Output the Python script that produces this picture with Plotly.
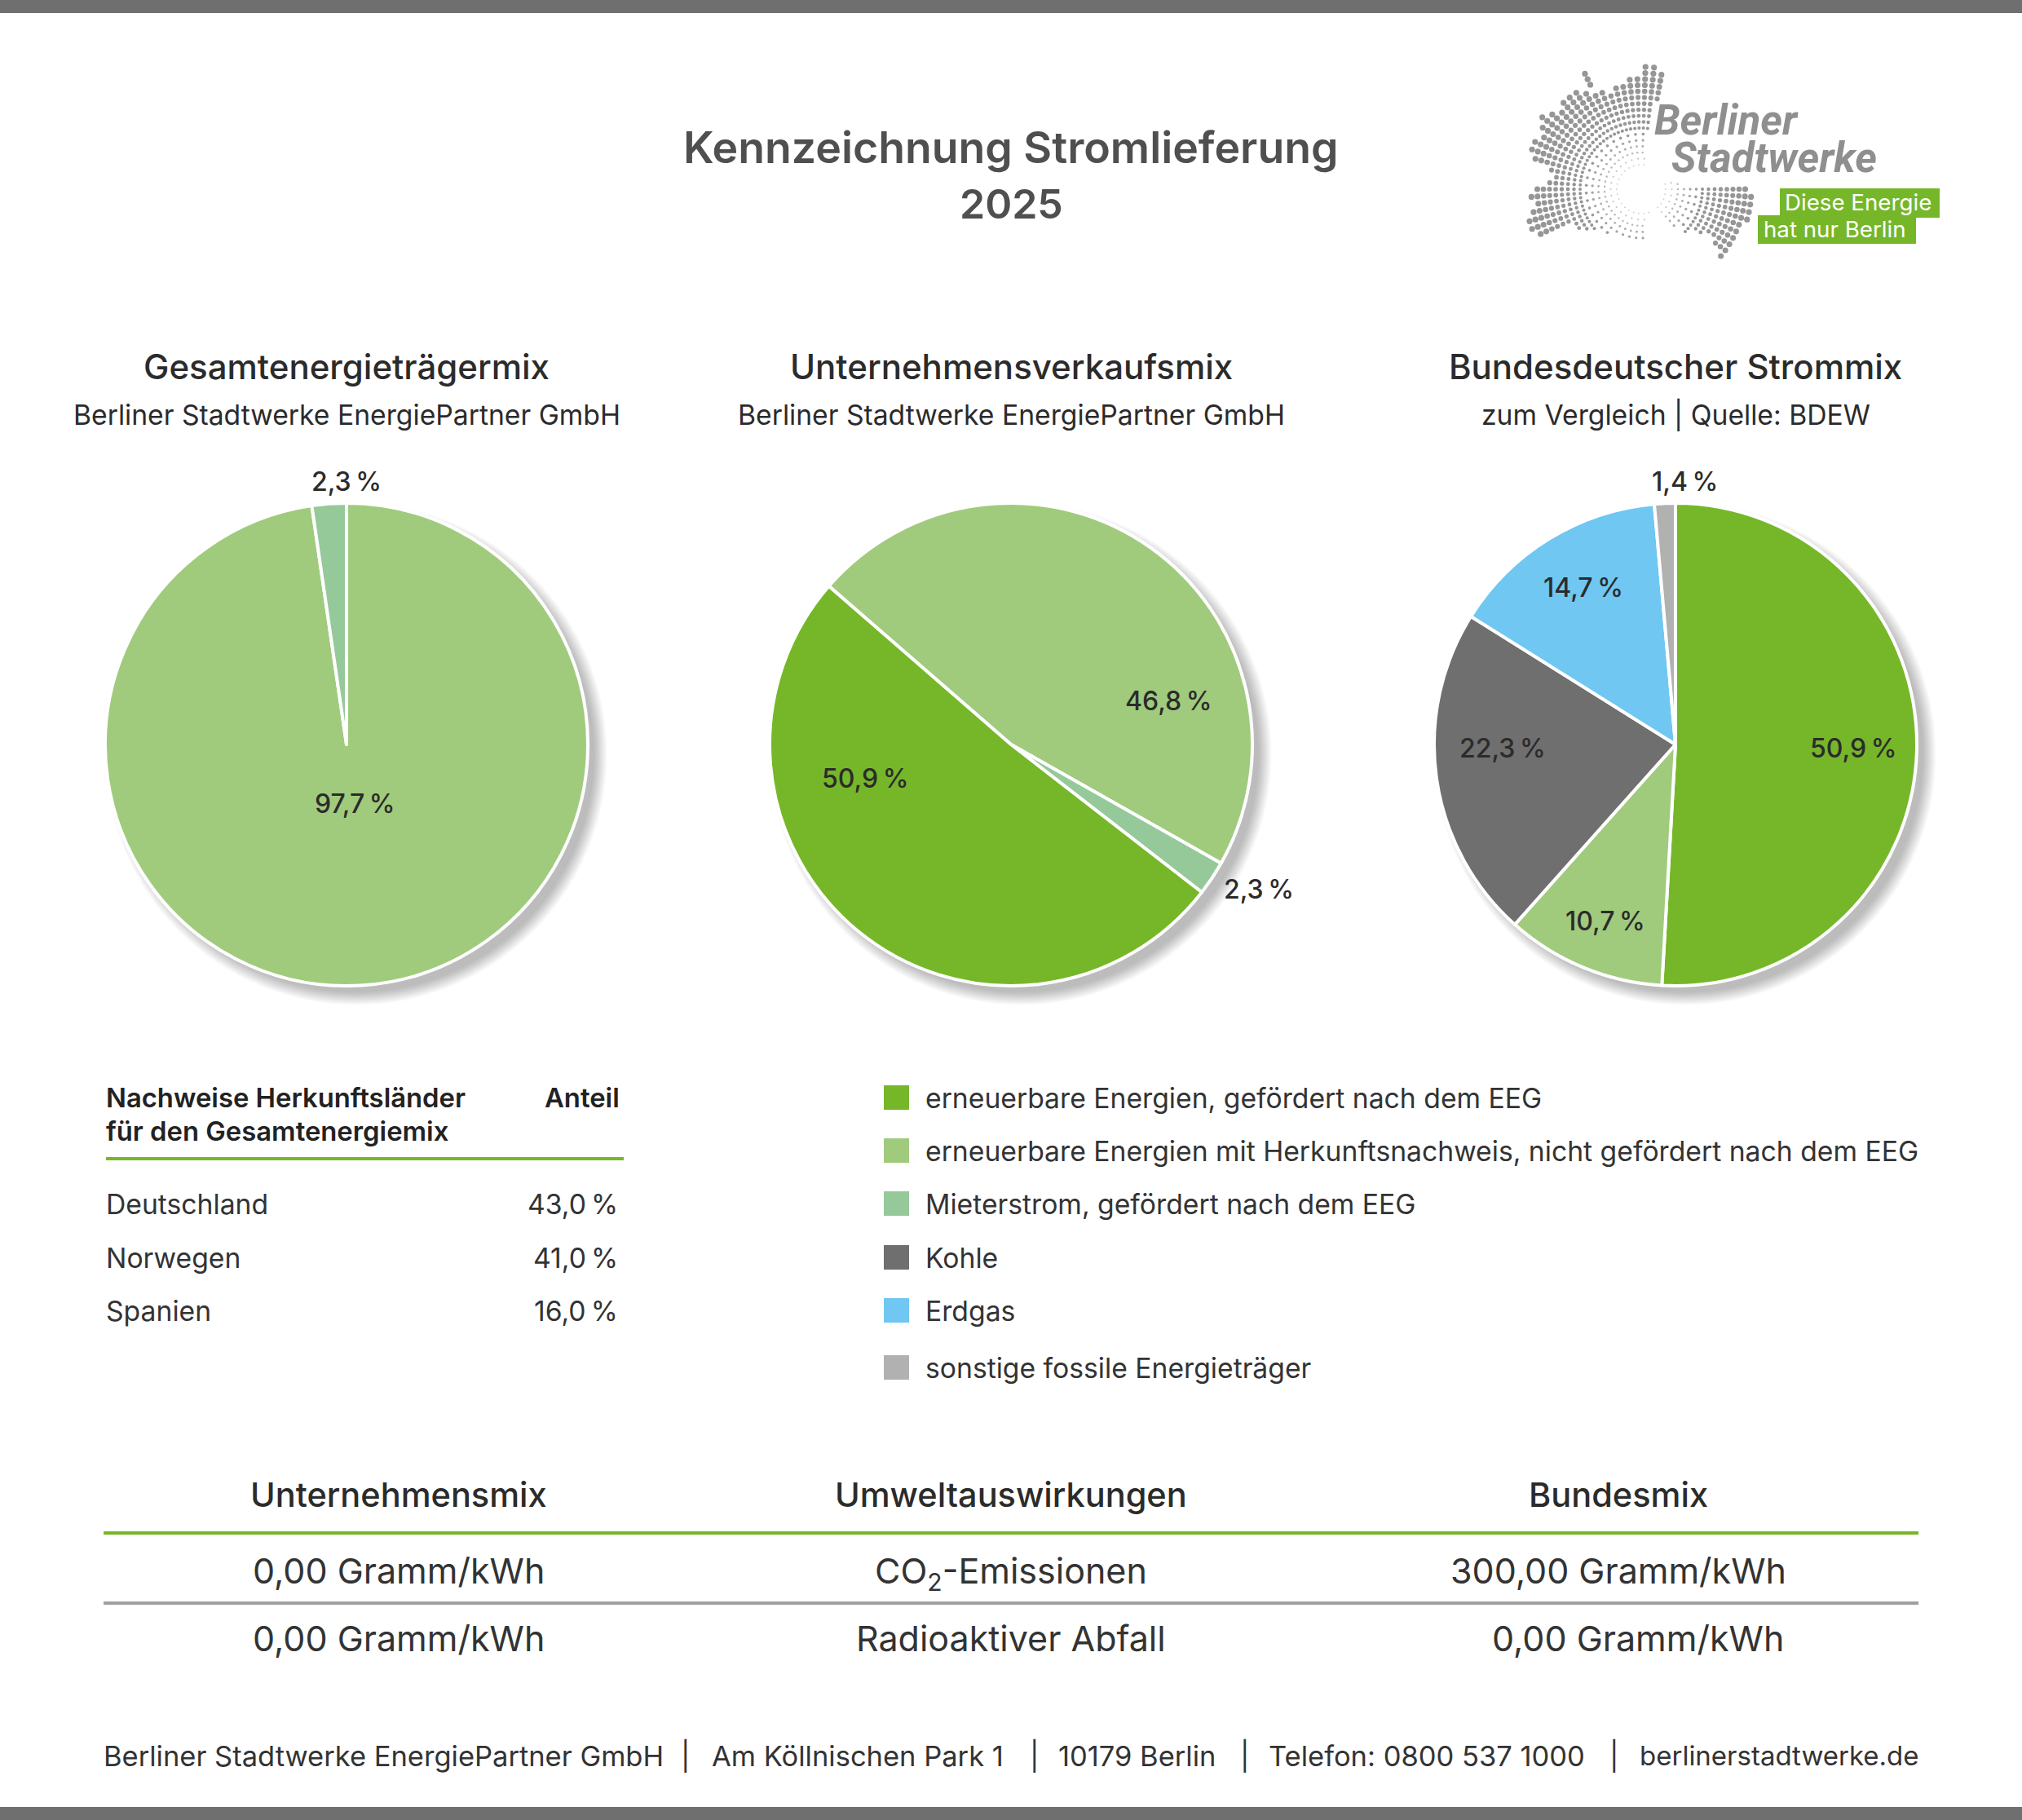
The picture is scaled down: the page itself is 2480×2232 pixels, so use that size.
import math
import plotly.graph_objects as go

W, H = 2480, 2232
FONT = 'Inter'
LOGO_FONT = 'Roboto'

GREEN = '#76b729'
LIGHT_GREEN = '#a0cb7d'
MINT = '#95c99a'
COAL = '#6f6f6f'
GAS = '#6fc7f2'
OTHER = '#b1b1b1'

# pie data
mix_1_values = [97.7, 2.3]
mix_1_colors = [LIGHT_GREEN, MINT]
mix_2_values = [46.8, 2.3, 50.9]
mix_2_colors = [LIGHT_GREEN, MINT, GREEN]
mix_3_values = [50.9, 10.7, 22.3, 14.7, 1.4]
mix_3_colors = [GREEN, LIGHT_GREEN, COAL, GAS, OTHER]

pie_heads = ['Gesamtenergieträgermix', 'Unternehmensverkaufsmix', 'Bundesdeutscher Strommix']
pie_subs = ['Berliner Stadtwerke EnergiePartner GmbH', 'Berliner Stadtwerke EnergiePartner GmbH',
            'zum Vergleich | Quelle: BDEW']

# legend
legend_labels = ['erneuerbare Energien, gefördert nach dem EEG',
                 'erneuerbare Energien mit Herkunftsnachweis, nicht gefördert nach dem EEG',
                 'Mieterstrom, gefördert nach dem EEG', 'Kohle', 'Erdgas',
                 'sonstige fossile Energieträger']
legend_colors = [GREEN, LIGHT_GREEN, MINT, COAL, GAS, OTHER]

# countries
countries = ['Deutschland', 'Norwegen', 'Spanien']
country_shares = ['43,0\u2009%', '41,0\u2009%', '16,0\u2009%']

# bottom table
impact_heads = ['Unternehmensmix', 'Umweltauswirkungen', 'Bundesmix']
impact_row_1 = ['0,00 Gramm/kWh', 'CO<sub>2</sub>-Emissionen', '300,00 Gramm/kWh']
impact_row_2 = ['0,00 Gramm/kWh', 'Radioaktiver Abfall', '0,00 Gramm/kWh']

footer_parts = ['Berliner Stadtwerke EnergiePartner GmbH', '|', 'Am Köllnischen Park 1', '|',
                '10179 Berlin', '|', 'Telefon: 0800 537 1000', '|']
footer_x = [125, 833, 871, 1261, 1296, 1519, 1554, 1972]
footer_last = 'berlinerstadtwerke.de'

# outline of the logo, in crop coordinates
logo_outline = [(598, 95), (640, 150), (640, 190), (630, 235), (605, 265), (600, 300), (590, 350), (580, 420),
                (590, 500), (600, 530), (700, 555), (740, 550), (800, 570), (870, 558), (915, 585), (900, 670),
                (860, 720), (860, 755), (830, 790), (815, 840), (795, 790), (770, 730), (700, 725), (650, 690),
                (600, 620), (580, 760), (520, 748), (450, 725), (390, 715), (340, 700), (290, 750), (240, 735),
                (220, 700), (250, 640), (235, 580), (300, 530), (295, 490), (238, 465), (245, 400), (280, 380),
                (262, 345), (255, 310), (290, 290), (330, 280), (335, 225), (400, 210), (390, 170), (395, 135),
                (425, 155), (420, 215), (490, 210), (515, 175), (560, 165), (575, 120)]


def pct(v):
    return f'{v:.1f}'.replace('.', ',') + '\u2009%'


def add_text(fig, x, y, s, size, color='#2b2b2b', anchor='center', weight=400, family=FONT, style='normal'):
    fig.add_annotation(x=x, y=y, xref='x', yref='y', text=s, showarrow=False, xanchor=anchor, yanchor='middle',
                       align=anchor, font=dict(family=family, size=size, color=color, weight=weight, style=style))


def add_rect(fig, x0, y0, x1, y1, color):
    fig.add_shape(type='rect', x0=x0, y0=y0, x1=x1, y1=y1, xref='x', yref='y', fillcolor=color, line_width=0)


def add_line(fig, x0, y, x1, color, width):
    fig.add_shape(type='line', x0=x0, y0=y, x1=x1, y1=y, xref='x', yref='y', line=dict(color=color, width=width))


def add_pie(fig, cx, cy, r, values, colors, rotation):
    # weicher Schatten unter dem Kreis
    for k in range(14):
        rr = r - 4 + k * 1.2
        fig.add_shape(type='circle', x0=cx + 12 - rr, x1=cx + 12 + rr, y0=cy + 12 - rr, y1=cy + 12 + rr,
                      xref='x', yref='y', fillcolor='#000000', opacity=0.02, line_width=0, layer='below')
    fig.add_trace(go.Pie(values=values, sort=False, direction='clockwise', rotation=rotation,
                         marker=dict(colors=colors, line=dict(color='white', width=4)),
                         textinfo='none', hoverinfo='skip', showlegend=False,
                         domain=dict(x=[(cx - r) / W, (cx + r) / W], y=[1 - (cy + r) / H, 1 - (cy - r) / H])))


def inside(px, py, poly):
    hit = False
    for i in range(len(poly)):
        x0, y0 = poly[i]
        x1, y1 = poly[i - 1]
        if (y0 > py) != (y1 > py) and px < x0 + (py - y0) * (x1 - x0) / (y1 - y0):
            hit = not hit
    return hit


def logo_dots():
    poly = [(1780 + x / 2.45, 40 + y / 2.97) for x, y in logo_outline]
    cx, cy = 2013, 232
    xs, ys, sizes, alphas = [], [], [], []
    for ring in range(4, 25):
        r = ring * 7.5
        step = 12 if r < 45 else 8 if r < 70 else 4
        for a in range(0, 360, step):
            ang = math.radians(a)
            x, y = cx + r * math.cos(ang), cy + r * math.sin(ang)
            if inside(x, y, poly):
                xs.append(x)
                ys.append(y)
                sizes.append(1 + (min(r, 130) / 130) ** 1.3 * 6.2)
                alphas.append(min(1, r / 70))
    return xs, ys, sizes, alphas


fig = go.Figure()

# Balken oben und unten
add_rect(fig, 0, 0, W, 16, COAL)
add_rect(fig, 0, 2216, W, H, COAL)

add_text(fig, 1240, 180, 'Kennzeichnung Stromlieferung', 53.6, '#4f4f4f', weight=600)
add_text(fig, 1240, 250, '2025', 50, '#4f4f4f', weight=600)

# Logo
xs, ys, sizes, alphas = logo_dots()
fig.add_trace(go.Scatter(x=xs, y=ys, mode='markers', hoverinfo='skip', showlegend=False,
                         marker=dict(size=sizes, opacity=alphas, color='#969696', line_width=0)))
add_text(fig, 2027, 147, 'Berliner', 51, '#8f8f8f', 'left', 700, LOGO_FONT, 'italic')
add_text(fig, 2048, 193, 'Stadtwerke', 51, '#8f8f8f', 'left', 700, LOGO_FONT, 'italic')
add_rect(fig, 2183, 231, 2379, 267, GREEN)
add_rect(fig, 2156, 264, 2350, 299, GREEN)
add_text(fig, 2187, 248, 'Diese Energie', 27.7, 'white', 'left')
add_text(fig, 2161, 281, 'hat nur Berlin', 27.7, 'white', 'left')

# Kreise
centers = [425, 1240, 2055]
for cx, head, sub in zip(centers, pie_heads, pie_subs):
    add_text(fig, cx, 449, head, 42, weight=500)
    add_text(fig, cx, 508, sub, 33.7)
add_pie(fig, centers[0], 913, 296, mix_1_values, mix_1_colors, 0)
add_pie(fig, centers[1], 913, 296, mix_2_values, mix_2_colors, -49)
add_pie(fig, centers[2], 913, 296, mix_3_values, mix_3_colors, 0)

add_text(fig, 425, 590, pct(mix_1_values[1]), 32, weight=500)
add_text(fig, 435, 985, pct(mix_1_values[0]), 32, weight=500)
add_text(fig, 1433, 859, pct(mix_2_values[0]), 32, weight=500)
add_text(fig, 1544, 1090, pct(mix_2_values[1]), 32, weight=500)
add_text(fig, 1061, 954, pct(mix_2_values[2]), 32, weight=500)
add_text(fig, 2273, 917, pct(mix_3_values[0]), 32, weight=500)
add_text(fig, 1969, 1129, pct(mix_3_values[1]), 32, weight=500)
add_text(fig, 1843, 917, pct(mix_3_values[2]), 32, weight=500)
add_text(fig, 1942, 720, pct(mix_3_values[3]), 32, weight=500)
add_text(fig, 2066, 590, pct(mix_3_values[4]), 32, weight=500)

# Herkunftslaender
add_text(fig, 128, 1346, 'Nachweise Herkunftsländer', 32.8, '#222222', 'left', 600)
add_text(fig, 128, 1387, 'für den Gesamtenergiemix', 32.8, '#222222', 'left', 600)
add_text(fig, 762, 1346, 'Anteil', 32.8, '#222222', 'right', 600)
add_line(fig, 130, 1421, 765, GREEN, 4)
for y, name, share in zip([1476, 1542, 1607], countries, country_shares):
    add_text(fig, 128, y, name, 33.7, '#333333', 'left')
    add_text(fig, 760, y, share, 33.7, '#333333', 'right')

# Legende
for y, label, color in zip([1346, 1411, 1476, 1542, 1607, 1677], legend_labels, legend_colors):
    add_rect(fig, 1084, y - 15, 1115, y + 15, color)
    add_text(fig, 1133, y, label, 33.7, '#333333', 'left')

# Tabelle unten
add_line(fig, 127, 1880, 2353, GREEN, 4)
add_line(fig, 127, 1966, 2353, '#a0a0a0', 4)
for x, head in zip([489, 1240, 1985], impact_heads):
    add_text(fig, x, 1833, head, 41.5, weight=500)
for x, val in zip([489, 1240, 1985], impact_row_1):
    add_text(fig, x, 1929 if 'sub' in val else 1926, val, 43, '#333333')
for x, val in zip([489, 1240, 2009], impact_row_2):
    add_text(fig, x, 2009, val, 43, '#333333')

for x, part in zip(footer_x, footer_parts):
    add_text(fig, x, 2153, part, 34.5, '#333333', 'left')
add_text(fig, 2356, 2153, footer_last, 33, '#333333', 'right')

fig.update_layout(width=W, height=H, margin=dict(l=0, r=0, t=0, b=0), paper_bgcolor='white', plot_bgcolor='white',
                  showlegend=False,
                  xaxis=dict(range=[0, W], visible=False, fixedrange=True),
                  yaxis=dict(range=[H, 0], visible=False, fixedrange=True))

fig.write_html('out.html', config=dict(displayModeBar=False), post_script="document.body.style.margin='0';")
